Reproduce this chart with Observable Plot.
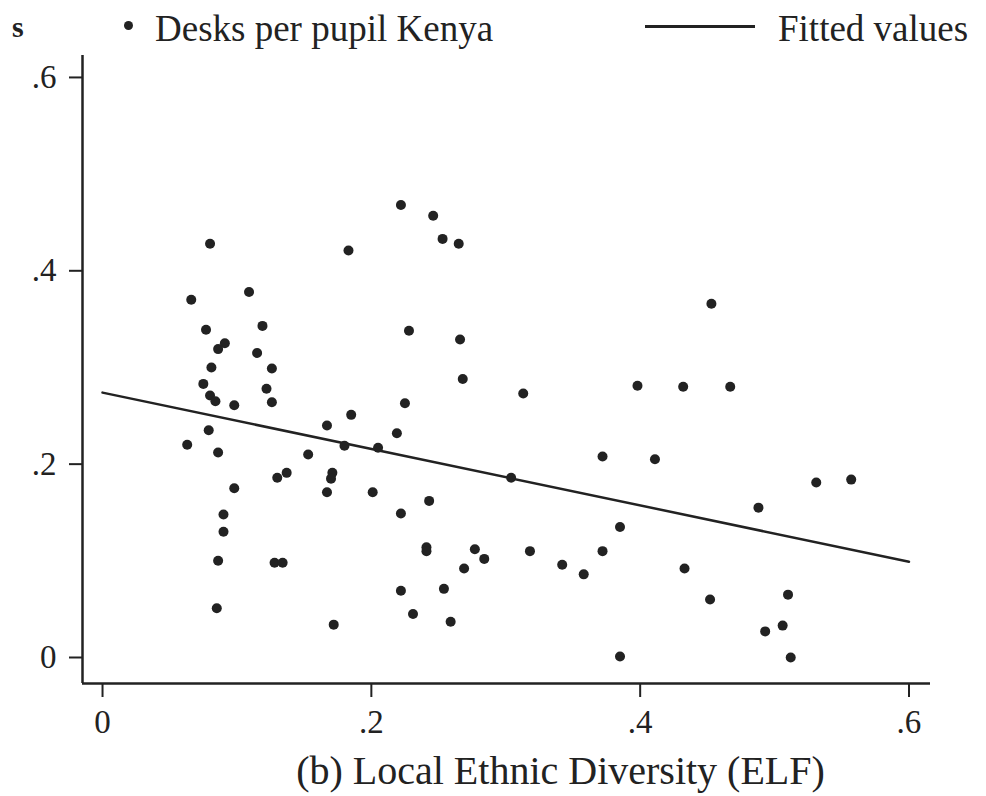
<!DOCTYPE html>
<html>
<head>
<meta charset="utf-8">
<script src="https://cdn.jsdelivr.net/npm/d3@7"></script>
<script src="https://cdn.jsdelivr.net/npm/@observablehq/plot@0.6"></script>
<style>
  html, body { margin: 0; padding: 0; background: #fff; }
  body { width: 986px; height: 796px; overflow: hidden; font-family: "Liberation Serif", "DejaVu Serif", serif; color: #222; }
  #legend { position: relative; height: 50px; width: 986px; font-size: 37px; overflow: hidden; }
  #legend span { position: absolute; white-space: nowrap; line-height: 1; }
  #legend .line { position: absolute; height: 2.5px; background: #222; }
  #legend .dot { position: absolute; width: 9px; height: 9px; border-radius: 50%; background: #222; }
  svg { display: block; }
</style>
</head>
<body>
<div id="legend">
  <span style="left:12px; top:12px; font-size:30px; font-weight:bold;">s</span>
  <div class="dot" style="left:124px; top:21px;"></div>
  <span style="left:155px; top:10px;">Desks per pupil Kenya</span>
  <div class="line" style="left:645px; top:25px; width:110px;"></div>
  <span style="left:778px; top:10px;">Fitted values</span>
</div>
<div id="chart"></div>
<script>
// Local ethnic diversity (ELF), x
const elf = [
  0.080, 0.183, 0.222, 0.246, 0.253, 0.265, 0.066, 0.109, 0.077, 0.119,
  0.228, 0.266, 0.091, 0.086, 0.115, 0.081, 0.126, 0.268, 0.075, 0.122,
  0.313, 0.398, 0.432, 0.467, 0.453, 0.080, 0.084, 0.098, 0.126, 0.225,
  0.185, 0.167, 0.219, 0.079, 0.063, 0.086, 0.153, 0.180, 0.205, 0.372,
  0.411, 0.304, 0.137, 0.130, 0.171, 0.170, 0.098, 0.167, 0.201, 0.243,
  0.222, 0.090, 0.090, 0.385, 0.531, 0.557, 0.488, 0.086, 0.128, 0.134,
  0.241, 0.241, 0.277, 0.284, 0.318, 0.269, 0.342, 0.358, 0.372, 0.433,
  0.222, 0.254, 0.085, 0.231, 0.259, 0.172, 0.452, 0.510, 0.493, 0.506,
  0.512, 0.385
];
// Desks per pupil Kenya, y
const desks = [
  0.428, 0.421, 0.468, 0.457, 0.433, 0.428, 0.370, 0.378, 0.339, 0.343,
  0.338, 0.329, 0.325, 0.319, 0.315, 0.300, 0.299, 0.288, 0.283, 0.278,
  0.273, 0.281, 0.280, 0.280, 0.366, 0.271, 0.265, 0.261, 0.264, 0.263,
  0.251, 0.240, 0.232, 0.235, 0.220, 0.212, 0.210, 0.219, 0.217, 0.208,
  0.205, 0.186, 0.191, 0.186, 0.191, 0.185, 0.175, 0.171, 0.171, 0.162,
  0.149, 0.148, 0.130, 0.135, 0.181, 0.184, 0.155, 0.100, 0.098, 0.098,
  0.114, 0.110, 0.112, 0.102, 0.110, 0.092, 0.096, 0.086, 0.110, 0.092,
  0.069, 0.071, 0.051, 0.045, 0.037, 0.034, 0.060, 0.065, 0.027, 0.033,
  0.000, 0.001
];
// Fitted values (linear fit) endpoints
const fitX = [0, 0.6];
const fitY = [0.274, 0.099];
// Tick values
const xTicks = [0, 0.2, 0.4, 0.6];
const yTicks = [0, 0.2, 0.4, 0.6];
const xLabel = "(b) Local Ethnic Diversity (ELF)";

const points = elf.map((x, i) => ({x, y: desks[i]}));
const fit = fitX.map((x, i) => ({x, y: fitY[i]}));
const fmt = d => d === 0 ? "0" : d3.format(".1f")(d).replace(/^0/, "");
const xDom = [-0.0149, 0.616];
const yDom = [-0.0269, 0.6227];
const font = "Liberation Serif, DejaVu Serif, serif";

const plot = Plot.plot({
  width: 986,
  height: 746,
  marginLeft: 82,
  marginRight: 56,
  marginTop: 5,
  marginBottom: 113,
  style: {fontFamily: font, color: "#222", background: "#fff"},
  x: {domain: xDom},
  y: {domain: yDom},
  marks: [
    Plot.ruleX([xDom[0]], {stroke: "#222", strokeWidth: 2.5}),
    Plot.ruleY([yDom[0]], {stroke: "#222", strokeWidth: 2.5}),
    Plot.axisX({ticks: xTicks, tickFormat: fmt, tickSize: 14, tickPadding: 12, fontSize: 33, label: null, stroke: "#222", strokeWidth: 2}),
    Plot.axisY({ticks: yTicks, tickFormat: fmt, tickSize: 13, tickPadding: 13, fontSize: 33, label: null, stroke: "#222", strokeWidth: 2}),
    Plot.line(fit, {x: "x", y: "y", stroke: "#222", strokeWidth: 2.5}),
    Plot.dot(points, {x: "x", y: "y", r: 5, fill: "#222", stroke: "none"}),
    Plot.text([xLabel], {frameAnchor: "bottom", dx: 54, dy: 88, fontSize: 40, fill: "#222", lineAnchor: "middle"})
  ]
});
document.getElementById("chart").appendChild(plot);
</script>
</body>
</html>
